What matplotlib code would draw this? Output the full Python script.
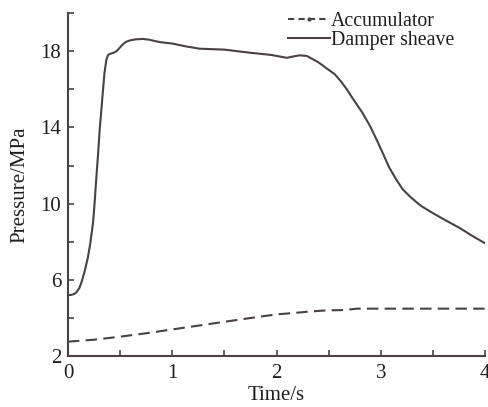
import matplotlib
matplotlib.use("Agg")
import matplotlib.pyplot as plt
from matplotlib.lines import Line2D
from matplotlib.ticker import MultipleLocator

plt.rcParams['font.family'] = ['Liberation Serif', 'DejaVu Serif']

# Damper sheave pressure (MPa) vs time (s)
damper_t = [0.0, 0.03, 0.06, 0.08, 0.11, 0.13, 0.16, 0.19, 0.215, 0.24, 0.255,
            0.27, 0.29, 0.304, 0.32, 0.336, 0.35, 0.368, 0.385, 0.40, 0.43, 0.464,
            0.50, 0.53, 0.56, 0.60, 0.65, 0.72, 0.78, 0.84, 0.90, 1.0, 1.13, 1.26,
            1.5, 1.74, 1.95, 2.03, 2.10, 2.16, 2.22, 2.29, 2.34, 2.40, 2.46, 2.51,
            2.56, 2.62, 2.68, 2.74, 2.82, 2.90, 2.96, 3.02, 3.08, 3.15, 3.21, 3.28,
            3.38, 3.50, 3.63, 3.76, 3.88, 4.0]
damper_p = [5.2, 5.21, 5.26, 5.34, 5.58, 5.88, 6.45, 7.15, 7.95, 8.98, 10.0,
            11.2, 12.7, 13.87, 14.9, 15.97, 16.85, 17.55, 17.8, 17.85, 17.9, 17.99,
            18.2, 18.38, 18.5, 18.57, 18.62, 18.64, 18.6, 18.52, 18.46, 18.4, 18.25, 18.13,
            18.08, 17.92, 17.8, 17.72, 17.65, 17.72, 17.78, 17.75, 17.6, 17.42, 17.18, 16.98,
            16.78, 16.4, 15.95, 15.44, 14.8, 14.04, 13.35, 12.64, 11.9, 11.25, 10.75, 10.37,
            9.9, 9.5, 9.1, 8.71, 8.3, 7.92]

# Accumulator pressure (MPa) vs time (s)
acc_t = [0.0, 0.25, 0.5, 0.75, 1.0, 1.25, 1.5, 1.75, 2.0, 2.16, 2.32, 2.48, 2.67,
         2.72, 2.77, 3.0, 3.5, 4.0]
acc_p = [2.76, 2.86, 3.02, 3.2, 3.40, 3.6, 3.80, 4.0, 4.19, 4.26, 4.34, 4.40, 4.42,
         4.46, 4.49, 4.49, 4.49, 4.49]

x_ticks = [0, 1, 2, 3, 4]
y_ticks = [2, 6, 10, 14, 18]

col = '#4a4242'
tcol = '#1e1e1e'

fig = plt.figure(figsize=(4.89, 4.07), dpi=100)
ax = fig.add_axes([0.139, 0.125, 0.853, 0.843])

ax.plot(acc_t, acc_p, color=col, lw=1.5, dashes=(5.5, 3))
ax.plot(damper_t, damper_p, color=col, lw=1.5)

ax.set_xlim(0, 4)
ax.set_ylim(2, 20)
ax.set_xticks(x_ticks)
ax.set_yticks(y_ticks)
ax.xaxis.set_minor_locator(MultipleLocator(0.5))
ax.yaxis.set_minor_locator(MultipleLocator(2))
ax.tick_params(which='both', direction='in', length=4.5, width=1.2, color=col,
               labelsize=15, labelcolor=tcol)
ax.tick_params(axis='x', which='both', pad=6)
ax.tick_params(axis='y', which='both', pad=5)
ax.spines['top'].set_visible(False)
ax.spines['right'].set_visible(False)
for s in ('left', 'bottom'):
    ax.spines[s].set_color(col)
    ax.spines[s].set_linewidth(1.5)

ax.set_xlabel('Time/s', fontsize=15, color=tcol, labelpad=1.5)
ax.set_ylabel('Pressure/MPa', fontsize=15, color=tcol, labelpad=8)

h_acc = Line2D([0, 0.5, 1], [0, 0, 0], color=col, lw=1.5, dashes=(3, 2),
               marker='.', markersize=4, markevery=[1])
h_dmp = Line2D([0], [0], color=col, lw=1.5)
leg = fig.legend([h_acc, h_dmp], ['Accumulator', 'Damper sheave'], loc='upper left',
                 bbox_to_anchor=(288 / 489, 1 - 11.5 / 407), frameon=False,
                 fontsize=14.3, handlelength=2.1, handletextpad=0.05,
                 labelspacing=0.0, borderpad=0.0, borderaxespad=0.0)
for t in leg.get_texts():
    t.set_color(tcol)

fig.savefig('out.png', dpi=100, facecolor='white')
